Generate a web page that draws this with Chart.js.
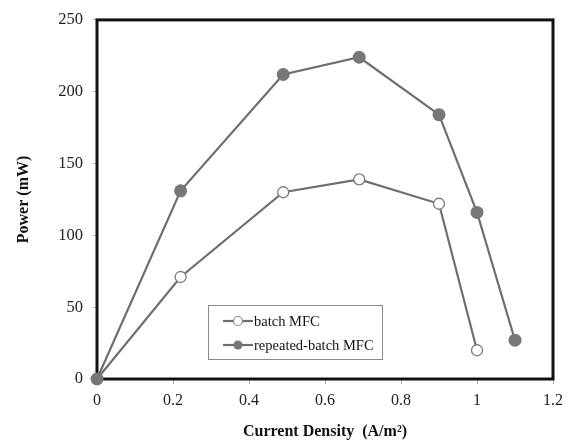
<!DOCTYPE html>
<html><head><meta charset="utf-8">
<script src="https://cdn.jsdelivr.net/npm/chart.js@4.4.0/dist/chart.umd.min.js"></script>
<style>html,body{margin:0;padding:0;background:#fff}#wrap{width:571px;height:443px}</style>
</head><body><div id="wrap"><canvas id="c" width="571" height="443"></canvas></div>
<script>
const currentBatch = [0, 0.22, 0.49, 0.69, 0.90, 1.00];
const powerBatch = [0, 71, 130, 139, 122, 20];
const currentRepeated = [0, 0.22, 0.49, 0.69, 0.90, 1.00, 1.10];
const powerRepeated = [0, 131, 212, 224, 184, 116, 27];
const seriesNames = ["batch MFC", "repeated-batch MFC"];
const xTicks = [0, 0.2, 0.4, 0.6, 0.8, 1, 1.2];
const yTicks = [0, 50, 100, 150, 200, 250];

const serif = "'Liberation Serif','Times New Roman',serif";
const lineColor = '#6e6e6e';
const markColor = '#777777';

const toPts = (xs, ys) => xs.map((x, i) => ({x: x, y: ys[i]}));

const framePlugin = {
  id: 'frame',
  afterDatasetsDraw(chart) {
    const {ctx, chartArea: a} = chart;
    ctx.save();
    ctx.strokeStyle = '#111';
    ctx.lineWidth = 3;
    ctx.strokeRect(a.left, a.top, a.right - a.left, a.bottom - a.top);
    ctx.restore();
  },
  afterDraw(chart) {
    const {ctx} = chart;
    const meta = chart.getDatasetMeta(1);
    const el = meta.data[0];
    if (el) {
      ctx.save();
      ctx.fillStyle = markColor;
      ctx.beginPath(); ctx.arc(el.x, el.y, 6.5, 0, Math.PI*2); ctx.fill();
      ctx.restore();
    }
    // legend box
    const L = 208, T = 305, W = 174, H = 54;
    ctx.save();
    ctx.fillStyle = '#fff';
    ctx.fillRect(L, T, W, H);
    ctx.strokeStyle = '#8a8a8a';
    ctx.lineWidth = 1;
    ctx.strokeRect(L + 0.5, T + 0.5, W, H);
    ctx.font = '14.5px ' + serif;
    ctx.textBaseline = 'middle';
    const rows = [T + 16, T + 40];
    rows.forEach((yy, i) => {
      ctx.strokeStyle = lineColor;
      ctx.lineWidth = 2.2;
      ctx.beginPath(); ctx.moveTo(L + 15, yy); ctx.lineTo(L + 45, yy); ctx.stroke();
      ctx.beginPath(); ctx.arc(L + 30, yy, 4.5, 0, Math.PI*2);
      if (i === 0) { ctx.fillStyle = '#fff'; ctx.fill(); ctx.lineWidth = 1.2; ctx.strokeStyle = '#888'; ctx.stroke(); }
      else { ctx.fillStyle = markColor; ctx.fill(); }
      ctx.fillStyle = '#111';
      ctx.fillText(seriesNames[i], L + 46, yy + 1);
    });
    ctx.restore();
  }
};

new Chart(document.getElementById('c'), {
  type: 'scatter',
  data: {
    datasets: [
      {label: seriesNames[0], data: toPts(currentBatch, powerBatch), showLine: true,
       borderColor: lineColor, borderWidth: 2.2, pointRadius: 5.5, pointBorderWidth: 1.3,
       pointBackgroundColor: '#ffffff', pointBorderColor: '#7a7a7a', order: 2},
      {label: seriesNames[1], data: toPts(currentRepeated, powerRepeated), showLine: true,
       borderColor: lineColor, borderWidth: 2.2, pointRadius: 6.5, pointBorderWidth: 0,
       pointBackgroundColor: markColor, pointBorderColor: markColor, order: 1}
    ]
  },
  options: {
    responsive: false, animation: false,
    layout: {padding: {top: 15, right: 18, left: 14, bottom: 0}},
    plugins: {legend: {display: false}, tooltip: {enabled: false}},
    scales: {
      x: {
        type: 'linear', min: 0, max: 1.2,
        afterBuildTicks: s => { s.ticks = xTicks.map(v => ({value: v})); },
        grid: {display: true, drawOnChartArea: false, drawTicks: true, tickLength: 5, color: '#aaa'},
        border: {display: false},
        ticks: {font: {family: serif, size: 16}, color: '#222', padding: 7,
                callback: v => String(v)},
        title: {display: true, text: 'Current Density  (A/m²)', font: {family: serif, size: 16, weight: 'bold'}, color: '#111', padding: {top: 4, bottom: 2}},
        afterFit: s => { s.height = 64; }
      },
      y: {
        type: 'linear', min: 0, max: 250,
        afterBuildTicks: s => { s.ticks = yTicks.map(v => ({value: v})); },
        grid: {display: true, drawOnChartArea: false, drawTicks: true, tickLength: 4, color: '#aaa'},
        border: {display: false},
        ticks: {font: {family: serif, size: 16.5}, color: '#222', padding: 10},
        title: {display: true, text: 'Power (mW)', font: {family: serif, size: 16, weight: 'bold'}, color: '#111', padding: {top: 0, bottom: 0}},
        afterFit: s => { s.width = 83; }
      }
    }
  },
  plugins: [framePlugin]
});
</script></body></html>
